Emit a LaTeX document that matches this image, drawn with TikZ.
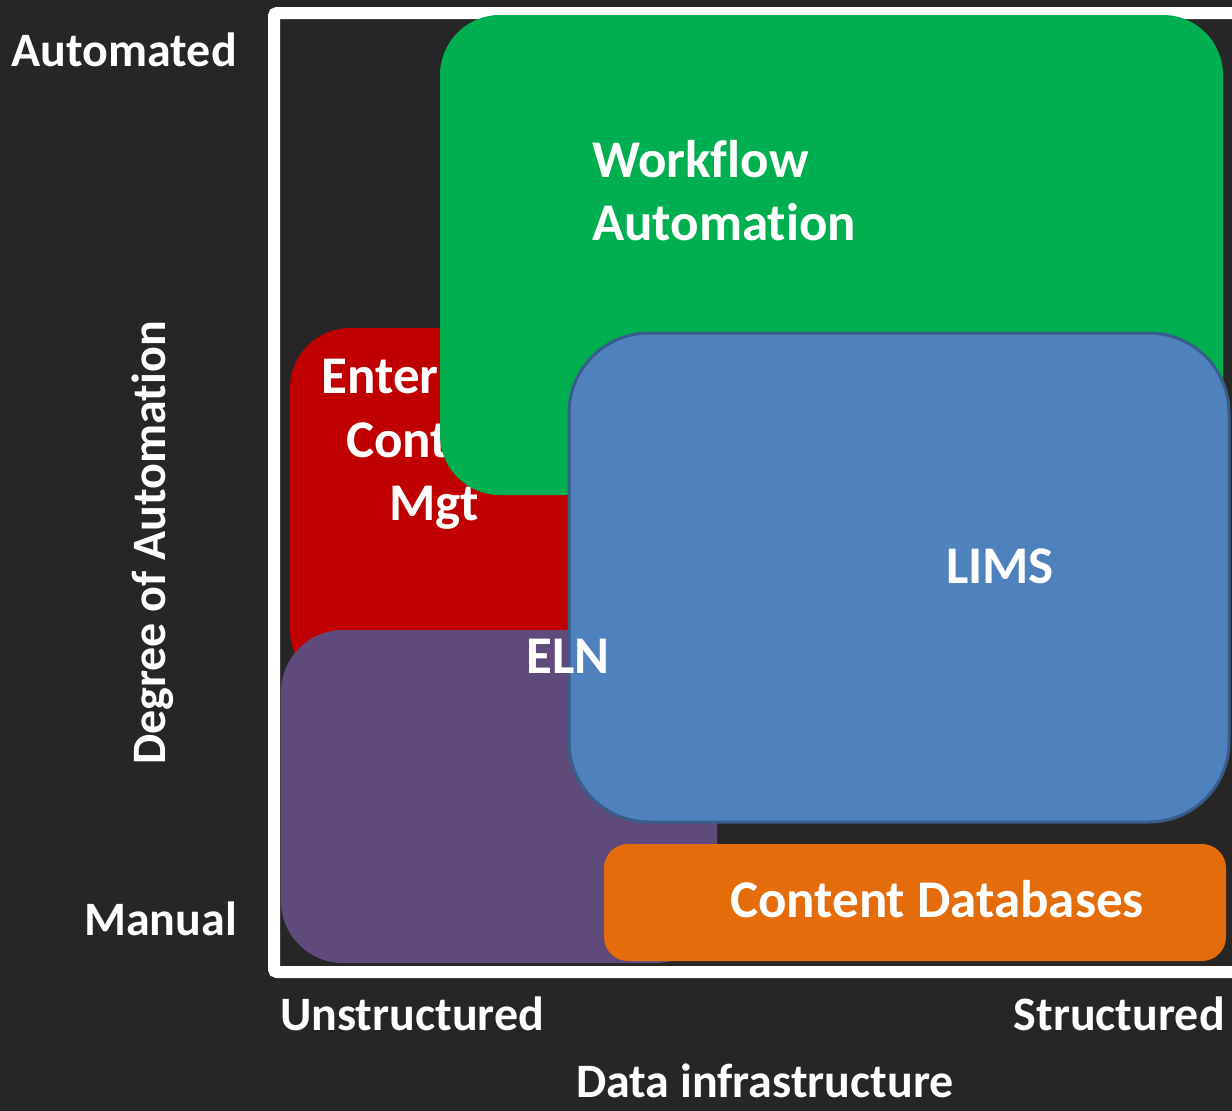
\documentclass[tikz,border=0pt]{standalone}
\usepackage{fontspec}
\setmainfont[Ligatures=NoCommon]{Carlito}
\definecolor{bgdark}{HTML}{262626}
\definecolor{wfgreen}{HTML}{00B050}
\definecolor{ecmred}{HTML}{C00000}
\definecolor{elnpurple}{HTML}{604A7B}
\definecolor{limsblue}{HTML}{4F81BD}
\definecolor{limsedge}{HTML}{385D8A}
\definecolor{dborange}{HTML}{E46C0A}
\begin{document}
\begin{tikzpicture}[x=1pt,y=-1pt,
  lbl/.style={text=white,font=\bfseries\fontsize{53}{63}\selectfont,inner sep=0pt},
  axl/.style={text=white,font=\bfseries\fontsize{48}{58}\selectfont,inner sep=0pt}]
\fill[bgdark] (0,0) rectangle (1232,1111);
\useasboundingbox (0,0) rectangle (1232,1111);
% frame
\draw[white,line width=12pt,rounded corners=3pt] (274,13) rectangle (1240,972);
% Enterprise Content Mgt
\fill[ecmred,rounded corners=60pt] (290,328) rectangle (720,690);
\node[lbl,anchor=base] (ecm1) at (434,393) {Enterprise};
\node[lbl,anchor=base] (ecm2) at (434,457) {Content};
\node[lbl,anchor=base] (ecm3) at (434,520) {Mgt};
% Workflow Automation
\fill[wfgreen,rounded corners=60pt] (440,15) rectangle (1223,495);
\node[lbl,anchor=base west] (wf1) at (592,177) {Workflow};
\node[lbl,anchor=base west] (wf2) at (592,240) {Automation};
% ELN
\fill[elnpurple,rounded corners=62pt] (281,630) rectangle (717,963);
% LIMS
\draw[limsedge,fill=limsblue,line width=3pt,rounded corners=80pt] (569,333) rectangle (1229,822);
\node[lbl,anchor=base] (lims) at (1000,583) {LIMS};
\node[lbl,anchor=base] (eln) at (568,673) {ELN};
% Content Databases
\fill[dborange,rounded corners=24pt] (604,844) rectangle (1226,961);
\node[lbl,anchor=base] (cdb) at (937,917) {Content Databases};
% axis labels
\node[axl,anchor=base east] (auto) at (237,66) {Automated};
\node[axl,anchor=base east] (man) at (237,935) {Manual};
\node[axl,anchor=base,rotate=90] (deg) at (165,543) {Degree of Automation};
\node[axl,anchor=base west] (uns) at (280,1030) {Unstructured};
\node[axl,anchor=base east] (str) at (1225,1030) {Structured};
\node[axl,anchor=base] (dinf) at (765,1097) {Data infrastructure};
\end{tikzpicture}
\end{document}
